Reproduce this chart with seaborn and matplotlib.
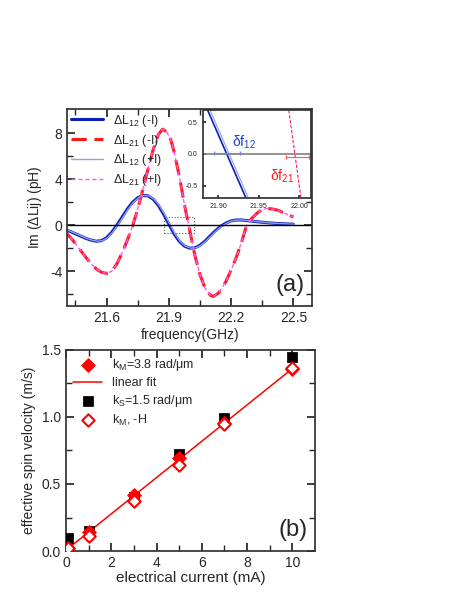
import matplotlib
matplotlib.use("Agg")
import matplotlib.pyplot as plt
import seaborn as sns
import numpy as np
import pandas as pd

sns.set_theme(style="ticks")
plt.rcParams['font.family'] = ['Liberation Sans', 'DejaVu Sans']
plt.rcParams['xtick.direction'] = 'in'
plt.rcParams['ytick.direction'] = 'in'
plt.rcParams['mathtext.fontset'] = 'custom'
plt.rcParams['mathtext.rm'] = 'Liberation Sans'
plt.rcParams['mathtext.it'] = 'Liberation Sans'
plt.rcParams['axes.edgecolor'] = '#333333'

# ---- data (a)
f12 = [21.400,21.425,21.450,21.475,21.500,21.525,21.550,21.575,21.600,21.625,21.650,21.675,21.700,
       21.725,21.750,21.775,21.800,21.825,21.850,21.875,21.900,21.925,21.950,21.975,22.000,22.025,
       22.050,22.075,22.100,22.125,22.150,22.175,22.200,22.225,22.250,22.275,22.300,22.350,22.400,
       22.450,22.500]
L12 = [-0.40,-0.55,-0.75,-0.95,-1.15,-1.30,-1.40,-1.35,-1.10,-0.62,0.0,0.70,1.40,
       1.98,2.38,2.58,2.55,2.25,1.70,0.95,0.10,-0.75,-1.40,-1.82,-2.00,-1.98,
       -1.75,-1.38,-0.92,-0.48,-0.10,0.18,0.37,0.45,0.45,0.40,0.35,0.25,0.17,
       0.12,0.08]
f21 = [21.400,21.425,21.450,21.475,21.500,21.525,21.550,21.575,21.600,21.625,21.650,21.675,21.700,
       21.725,21.750,21.775,21.800,21.825,21.850,21.870,21.890,21.910,21.925,21.950,21.975,22.000,
       22.025,22.050,22.075,22.100,22.115,22.140,22.175,22.200,22.225,22.250,22.275,22.300,22.325,
       22.350,22.375,22.400,22.425,22.450,22.475,22.500]
L21 = [-0.6,-1.05,-1.6,-2.2,-2.8,-3.35,-3.8,-4.1,-4.2,-4.0,-3.35,-2.4,-1.3,
       -0.1,1.4,3.1,4.9,6.6,7.9,8.35,8.1,7.4,6.4,4.3,1.8,-0.4,
       -2.6,-4.3,-5.5,-6.1,-6.2,-5.9,-4.9,-3.9,-2.8,-1.5,0.0,0.6,1.05,
       1.35,1.45,1.4,1.3,1.1,0.9,0.7]
# inset (zoom near zero crossing)
ins_f12 = [21.887, 21.934]
ins_v12 = [0.69, -0.69]
ins_f12p = [21.890, 21.937]
ins_f21 = [21.987, 22.002]
ins_v21 = [0.69, -0.69]

# ---- data (b)
current = [0.1, 1, 3, 5, 7, 10]
v_kM = [0.02, 0.14, 0.415, 0.69, 0.955, 1.36]
v_kS = [0.10, 0.15, 0.40, 0.72, 0.99, 1.45]
v_kM_negH = [0.02, 0.115, 0.375, 0.64, 0.95, 1.365]
fit_slope, fit_icpt = 0.1354, 0.0065

fig = plt.figure(figsize=(4.63, 5.99), dpi=100)
ax = fig.add_axes([0.145, 0.489, 0.529, 0.329])
sns.lineplot(x=f12, y=L12, ax=ax, color='#0a1fb5', lw=2.2, label=r'$\Delta$L$_{12}$ (-I)')
sns.lineplot(x=f21, y=L21, ax=ax, color='#ff1a1a', lw=2.2, ls=(0, (5, 2.5)), label=r'$\Delta$L$_{21}$ (-I)')
sns.lineplot(x=np.array(f12) + 0.004, y=L12, ax=ax, color='#8fa0f0', lw=1.0, label=r'$\Delta$L$_{12}$ (+I)')
sns.lineplot(x=f21, y=L21, ax=ax, color='#ff55ff', lw=1.0, ls=(0, (3, 2)), label=r'$\Delta$L$_{21}$ (+I)')
ax.axhline(0, color='black', lw=1)
ax.add_patch(plt.Rectangle((21.876, -0.7), 0.144, 1.4, fill=False, ls=':', lw=0.8, ec='#555555'))
ax.set_xlim(21.41, 22.59)
ax.set_ylim(-7.04, 10.1)
ax.set_xticks([21.6, 21.9, 22.2, 22.5])
ax.set_yticks([-4, 0, 4, 8])
ax.set_yticklabels(['-4', '0', '4', '8'])
ax.set_xticks([21.45, 21.75, 22.05, 22.35], minor=True)
ax.set_yticks([-6, -2, 2, 6], minor=True)
ax.tick_params(which='both', top=True, right=True, labelsize=10)
ax.set_xlabel('frequency(GHz)', fontsize=10, labelpad=2)
ax.set_ylabel(r'Im ($\Delta$Lij) (pH)', fontsize=10)
ax.legend(loc='upper left', frameon=False, fontsize=9, handlelength=2.6, borderaxespad=0.1, labelspacing=0.3, borderpad=0.2)
ax.text(0.97, 0.05, '(a)', transform=ax.transAxes, ha='right', va='bottom', fontsize=17)

ins = fig.add_axes([0.438, 0.669, 0.233, 0.147])
sns.lineplot(x=ins_f12, y=ins_v12, ax=ins, color='#0a1fb5', lw=1.2)
sns.lineplot(x=ins_f12p, y=ins_v12, ax=ins, color='#8fa0f0', lw=0.8)
sns.lineplot(x=ins_f21, y=ins_v21, ax=ins, color='#ff1a6a', lw=0.8, ls=(0, (3, 1.5)))
ins.axhline(0, color='gray', lw=1.2)
ins.errorbar([21.911], [0.02], xerr=[[0.016], [0.016]], color='#6688ee', lw=0.8, capsize=1.5)
ins.errorbar([21.998], [-0.05], xerr=[[0.014], [0.014]], color='#ff5555', lw=0.8, capsize=1.5)
ins.text(21.917, 0.12, 'δf$_{12}$', color='#1a3fd0', fontsize=10)
ins.text(21.964, -0.42, 'δf$_{21}$', color='#ff1a1a', fontsize=10)
ins.set_xlim(21.881, 22.014)
ins.set_ylim(-0.7, 0.69)
ins.set_xticks([21.90, 21.95, 22.00])
ins.set_xticklabels(['21.90', '21.95', '22.00'])
ins.set_yticks([-0.5, 0.0, 0.5])
ins.set_yticklabels(['-0.5', '0.0', '0.5'])
ins.tick_params(labelsize=5, length=2)

bx = fig.add_axes([0.1425, 0.080, 0.538, 0.336])
xfit = np.array([min(current), max(current)])
sns.scatterplot(x=current, y=v_kS, ax=bx, marker='s', color='black', s=45, edgecolor='black', zorder=3, label=r'k$_S$=1.5 rad/μm')
sns.scatterplot(x=current, y=v_kM, ax=bx, marker='D', color='#ff0000', s=50, edgecolor='#ff0000', zorder=4, label=r'k$_M$=3.8 rad/μm')
sns.lineplot(x=xfit, y=fit_slope * xfit + fit_icpt, ax=bx, color='#ff0000', lw=1.1, label='linear fit')
sns.scatterplot(x=current, y=v_kM_negH, ax=bx, marker='D', facecolor='white', edgecolor='#ff0000', linewidth=1.5, s=40, zorder=5, label=r'k$_M$, -H')
h, l = bx.get_legend_handles_labels()
order = [1, 2, 0, 3]
bx.legend([h[i] for i in order], [l[i] for i in order], loc='upper left', frameon=False, fontsize=9, borderaxespad=0.2, labelspacing=0.3, handlelength=2.3)
bx.set_xlim(0, 11)
bx.set_ylim(0, 1.5)
bx.set_xticks([0, 2, 4, 6, 8, 10])
bx.set_yticks([0, 0.5, 1.0, 1.5])
bx.set_xticks([1, 3, 5, 7, 9], minor=True)
bx.set_yticks([0.25, 0.75, 1.25], minor=True)
bx.tick_params(which='both', top=True, right=True, labelsize=10)
bx.set_xlabel('electrical current (mA)', fontsize=11, labelpad=1)
bx.set_ylabel('effective spin velocity (m/s)', fontsize=10)
bx.text(0.97, 0.05, '(b)', transform=bx.transAxes, ha='right', va='bottom', fontsize=17)

fig.savefig('out.png', dpi=100)
